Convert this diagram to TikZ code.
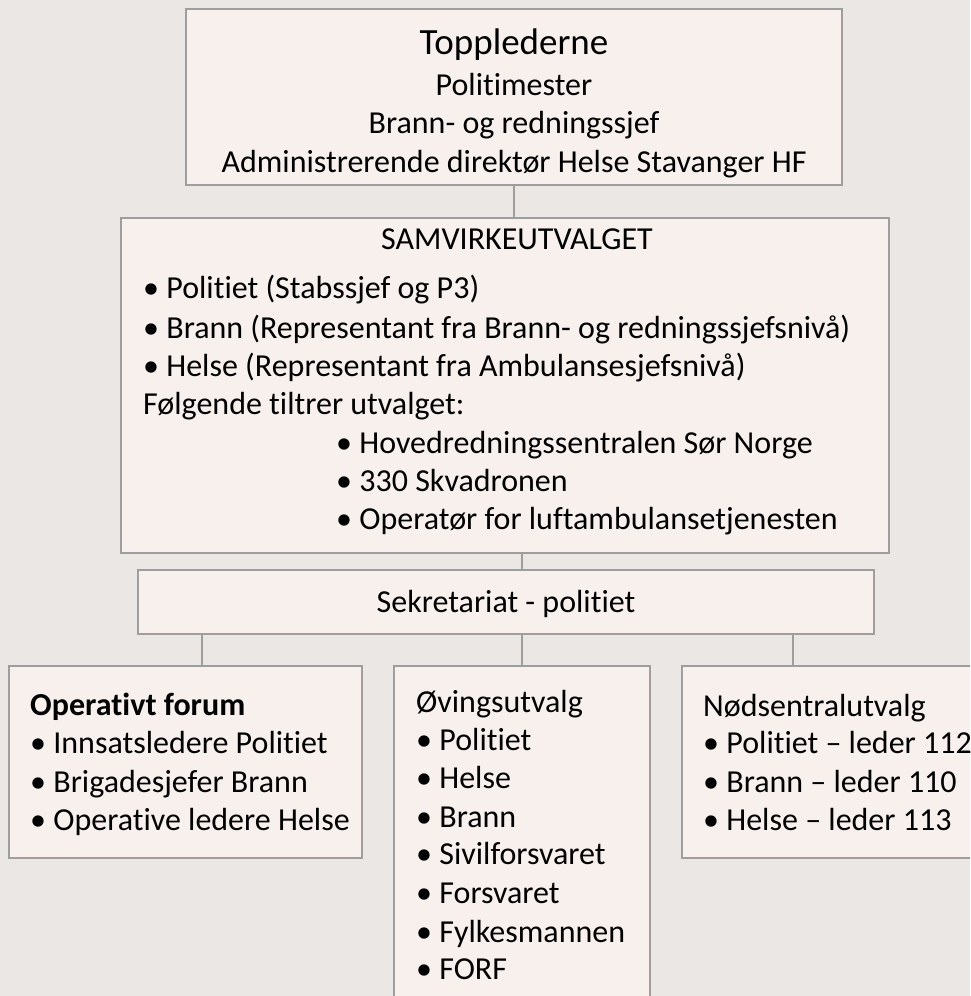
\documentclass[tikz,border=0pt]{standalone}
\usepackage{fontspec}
\setmainfont[Ligatures=NoCommon]{Carlito}
\usepackage{tikz}
\usetikzlibrary{calc,positioning}
\definecolor{bgcol}{RGB}{234,231,228}
\definecolor{boxfill}{RGB}{247,240,237}
\definecolor{boxline}{RGB}{158,158,158}

\begin{document}
\begin{tikzpicture}[x=1pt, y=-1pt]
      \tikzstyle{box} = [draw=boxline, fill=boxfill, line width=2.4pt, rectangle, inner sep=0pt]
      \tikzstyle{txt} = [inner sep=0pt, anchor=base west, font=\fontsize{32}{38}\selectfont]
      \tikzstyle{ctxt} = [txt, anchor=base]
      \tikzstyle{link} = [draw=boxline, line width=2pt]

      \fill[bgcol] (0,0) rectangle (970,996);
      \useasboundingbox (0,0) rectangle (970,996);
      \clip (0,0) rectangle (970,996);

      % boxes
      \node[box, minimum width=656pt, minimum height=176pt] (top) at (514,97) {};
      \node[box, minimum width=768pt, minimum height=335pt] (samv) at (505,385.5) {};
      \node[box, minimum width=736pt, minimum height=64pt] (sek) at (506,602) {};
      \node[box, minimum width=353pt, minimum height=192pt] (opf) at (185.5,762) {};
      \node[box, minimum width=256pt, minimum height=344pt] (ovb) at (522,838) {};
      \node[box, minimum width=318pt, minimum height=192pt] (nsu) at (841,762) {};

      \coordinate (lx) at (202,0);
      \coordinate (rx) at (793,0);

      \draw[link] (top.south) -- (samv.north -| top.south);
      \draw[link] (samv.south -| ovb.north) -- (sek.north -| ovb.north);
      \draw[link] (sek.south -| lx) -- (opf.north -| lx);
      \draw[link] (sek.south -| ovb.north) -- (ovb.north);
      \draw[link] (sek.south -| rx) -- (nsu.north -| rx);

      % Topplederne
      \node[ctxt, font=\fontsize{37}{44}\selectfont] (t0) at (514,54) {Topplederne};
      \node[ctxt] (t1) at (514,95) {Politimester};
      \node[ctxt] (t2) at (514,133) {Brann- og redningssjef};
      \node[ctxt] (t3) at (514,172) {Administrerende direktør Helse Stavanger HF};

      % Samvirkeutvalget
      \node[ctxt] (s0) at (517,249) {SAMVIRKEUTVALGET};
      \node[txt] (s1) at (143,298) {• Politiet (Stabssjef og P3)};
      \node[txt] (s2) at (143,338) {• Brann (Representant fra Brann- og redningssjefsnivå)};
      \node[txt] (s3) at (143,376) {• Helse (Representant fra Ambulansesjefsnivå)};
      \node[txt] (s4) at (143,414) {Følgende tiltrer utvalget:};
      \node[txt] (s5) at (336,453) {• Hovedredningssentralen Sør Norge};
      \node[txt] (s6) at (336,491) {• 330 Skvadronen};
      \node[txt] (s7) at (336,529) {• Operatør for luftambulansetjenesten};

      \node[ctxt] (k0) at (506,612) {Sekretariat - politiet};

      % Operativt forum
      \node[txt, font=\fontsize{32}{38}\selectfont\bfseries] (o0) at (30,715) {Operativt forum};
      \node[txt] (o1) at (30,753) {• Innsatsledere Politiet};
      \node[txt] (o2) at (30,792) {• Brigadesjefer Brann};
      \node[txt] (o3) at (30,830) {• Operative ledere Helse};

      % Øvingsutvalg
      \node[txt] (v0) at (416,712) {Øvingsutvalg};
      \foreach \i/\y/\t in {1/750/Politiet, 2/788/Helse, 3/827/Brann, 4/864/Sivilforsvaret,
                            5/903/Forsvaret, 6/942/Fylkesmannen, 7/979/FORF}
        \node[txt] (v\i) at (416,\y) {• \t};

      % Nødsentralutvalg
      \node[txt] (n0) at (703,716) {Nødsentralutvalg};
      \node[txt] (n1) at (703,753) {• Politiet – leder 112};
      \node[txt] (n2) at (703,792) {• Brann – leder 110};
      \node[txt] (n3) at (703,830) {• Helse – leder 113};
\end{tikzpicture}
\end{document}
